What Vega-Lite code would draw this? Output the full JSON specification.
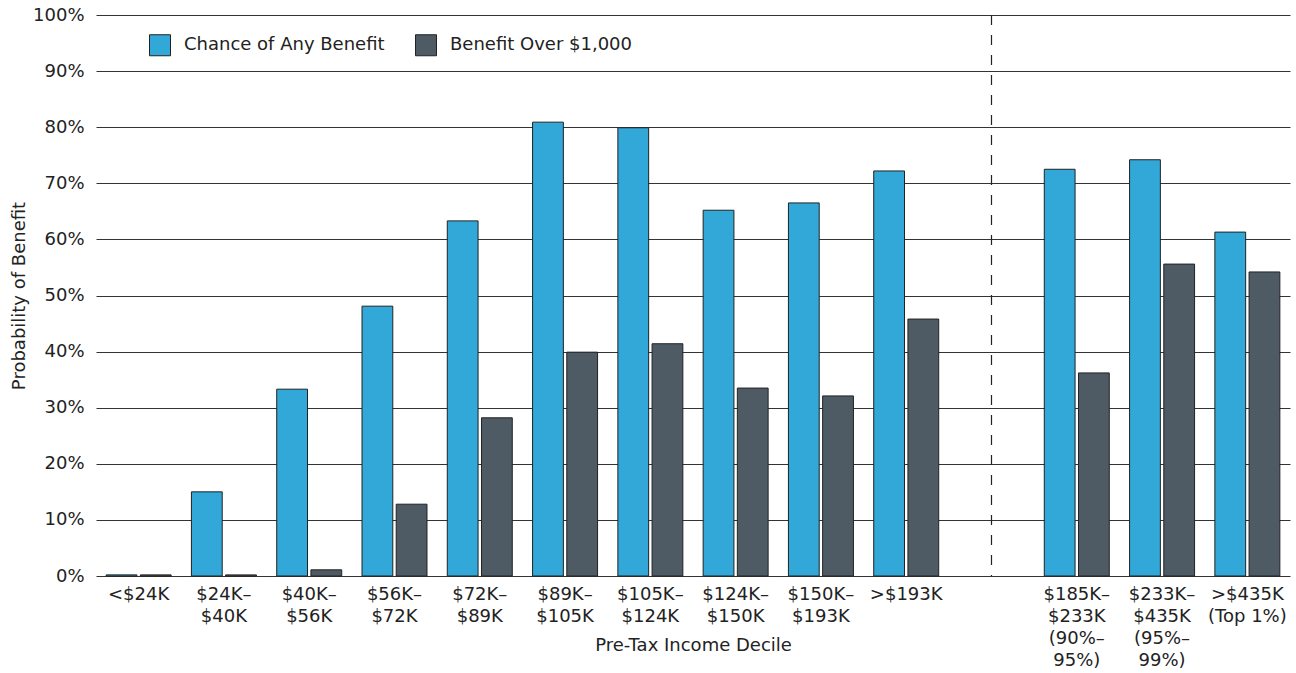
{
  "$schema": "https://vega.github.io/schema/vega-lite/v6.json",
  "width": 1194,
  "height": 561,
  "autosize": {"type": "none"},
  "padding": {"left": 96, "top": 15, "right": 6, "bottom": 97},
  "background": "white",
  "config": {
    "font": "DejaVu Sans",
    "view": {"stroke": null},
    "axis": {"labelColor": "#222", "titleColor": "#222", "labelFont": "DejaVu Sans", "titleFont": "DejaVu Sans", "titleFontWeight": "normal"},
    "legend": {"labelFont": "DejaVu Sans"}
  },
  "datasets": {
    "bars": [
      {"decile": "<$24K", "series": "Chance of Any Benefit", "value": 0.2},
      {"decile": "<$24K", "series": "Benefit Over $1,000", "value": 0.2},
      {"decile": "$24K–|$40K", "series": "Chance of Any Benefit", "value": 15.0},
      {"decile": "$24K–|$40K", "series": "Benefit Over $1,000", "value": 0.2},
      {"decile": "$40K–|$56K", "series": "Chance of Any Benefit", "value": 33.3},
      {"decile": "$40K–|$56K", "series": "Benefit Over $1,000", "value": 1.1},
      {"decile": "$56K–|$72K", "series": "Chance of Any Benefit", "value": 48.1},
      {"decile": "$56K–|$72K", "series": "Benefit Over $1,000", "value": 12.8},
      {"decile": "$72K–|$89K", "series": "Chance of Any Benefit", "value": 63.3},
      {"decile": "$72K–|$89K", "series": "Benefit Over $1,000", "value": 28.2},
      {"decile": "$89K–|$105K", "series": "Chance of Any Benefit", "value": 80.9},
      {"decile": "$89K–|$105K", "series": "Benefit Over $1,000", "value": 39.9},
      {"decile": "$105K–|$124K", "series": "Chance of Any Benefit", "value": 79.9},
      {"decile": "$105K–|$124K", "series": "Benefit Over $1,000", "value": 41.4},
      {"decile": "$124K–|$150K", "series": "Chance of Any Benefit", "value": 65.2},
      {"decile": "$124K–|$150K", "series": "Benefit Over $1,000", "value": 33.5},
      {"decile": "$150K–|$193K", "series": "Chance of Any Benefit", "value": 66.5},
      {"decile": "$150K–|$193K", "series": "Benefit Over $1,000", "value": 32.1},
      {"decile": ">$193K", "series": "Chance of Any Benefit", "value": 72.2},
      {"decile": ">$193K", "series": "Benefit Over $1,000", "value": 45.8},
      {"decile": "$185K–|$233K|(90%–|95%)", "series": "Chance of Any Benefit", "value": 72.5},
      {"decile": "$185K–|$233K|(90%–|95%)", "series": "Benefit Over $1,000", "value": 36.2},
      {"decile": "$233K–|$435K|(95%–|99%)", "series": "Chance of Any Benefit", "value": 74.2},
      {"decile": "$233K–|$435K|(95%–|99%)", "series": "Benefit Over $1,000", "value": 55.6},
      {"decile": ">$435K|(Top 1%)", "series": "Chance of Any Benefit", "value": 61.3},
      {"decile": ">$435K|(Top 1%)", "series": "Benefit Over $1,000", "value": 54.2}
    ],
    "divider": [{"decile": "gap"}]
  },
  "encoding": {
    "x": {
      "field": "decile",
      "type": "nominal",
      "scale": {
        "domain": ["<$24K", "$24K–|$40K", "$40K–|$56K", "$56K–|$72K", "$72K–|$89K", "$89K–|$105K", "$105K–|$124K", "$124K–|$150K", "$150K–|$193K", ">$193K", "gap", "$185K–|$233K|(90%–|95%)", "$233K–|$435K|(95%–|99%)", ">$435K|(Top 1%)"],
        "paddingInner": 0.238,
        "paddingOuter": 0.119
      },
      "axis": {
        "title": "Pre-Tax Income Decile",
        "titleFontSize": 18,
        "titleY": 60,
        "titleBaseline": "top",
        "labelAngle": 0,
        "labelFontSize": 18,
        "labelLineHeight": 22,
        "labelPadding": 9,
        "labelLimit": 0,
        "labelExpr": "datum.label == 'gap' ? '' : split(datum.label, '|')",
        "ticks": false,
        "domain": false,
        "grid": false
      }
    }
  },
  "layer": [
    {
      "data": {"name": "bars"},
      "mark": {"type": "bar", "stroke": "#222", "strokeWidth": 1},
      "encoding": {
        "xOffset": {
          "field": "series",
          "type": "nominal",
          "scale": {"domain": ["Chance of Any Benefit", "Benefit Over $1,000"], "paddingInner": 0.1, "paddingOuter": 0}
        },
        "y": {
          "field": "value",
          "type": "quantitative",
          "scale": {"domain": [0, 100]},
          "axis": {
            "title": "Probability of Benefit",
            "titleFontSize": 18,
            "titleX": -68,
            "values": [0, 10, 20, 30, 40, 50, 60, 70, 80, 90, 100],
            "labelExpr": "datum.value + '%'",
            "labelFontSize": 18,
            "labelPadding": 12,
            "ticks": false,
            "domain": false,
            "gridColor": "#333",
            "gridWidth": 1.2,
            "gridOpacity": 1
          }
        },
        "fill": {
          "field": "series",
          "type": "nominal",
          "scale": {"domain": ["Chance of Any Benefit", "Benefit Over $1,000"], "range": ["#31a8d7", "#4e5b64"]},
          "legend": {
            "title": null,
            "orient": "none",
            "direction": "horizontal",
            "legendX": 53,
            "legendY": 19,
            "symbolType": "square",
            "symbolSize": 441,
            "symbolStrokeColor": "#222",
            "symbolStrokeWidth": 1,
            "symbolOpacity": 1,
            "labelFontSize": 18,
            "labelLimit": 0,
            "labelColor": "#222",
            "labelOffset": 13,
            "columnPadding": 28
          }
        }
      }
    },
    {
      "data": {"name": "divider"},
      "mark": {"type": "rule", "stroke": "#222", "strokeWidth": 1.2, "strokeDash": [10, 10]},
      "encoding": {
        "x": {"field": "decile", "type": "nominal", "bandPosition": 0.5}
      }
    }
  ]
}
